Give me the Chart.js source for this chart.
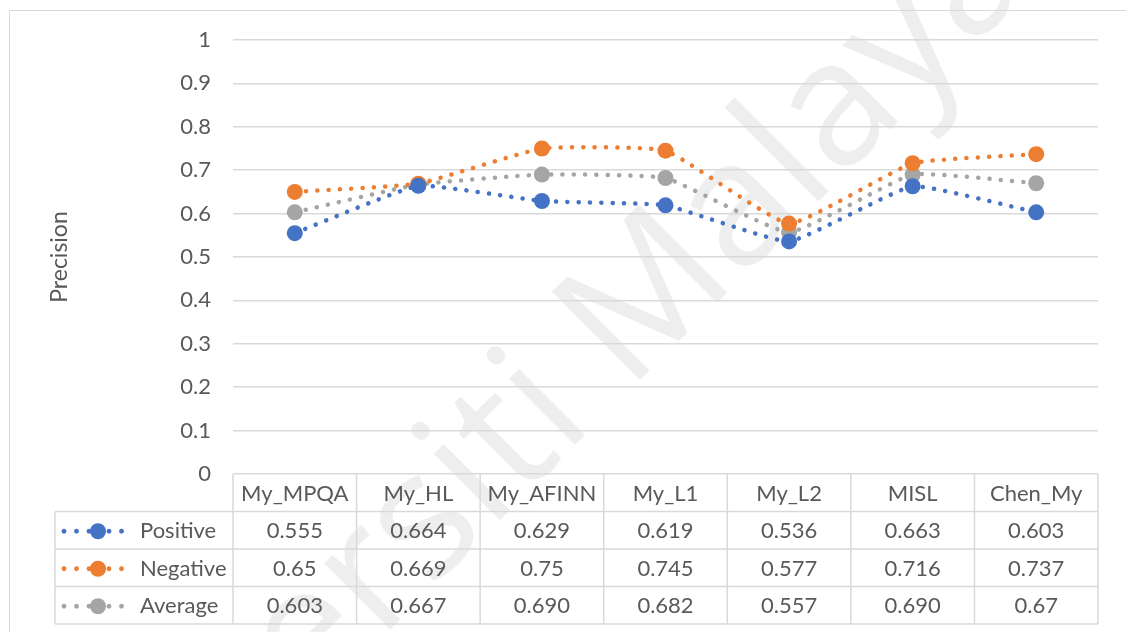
<!DOCTYPE html>
<html lang="en">
<head>
    <meta charset="UTF-8">
    <title>Precision</title>
    <script src="https://cdn.jsdelivr.net/npm/chart.js"></script>
    <style>
        body { margin: 0; padding: 0; background: #fff; }
        #wrap { position: relative; width: 1126px; height: 632px; }
        #frame { position: absolute; left: 9px; top: 10px; width: 1130px; height: 640px; border: 1.5px solid #d9d9d9; box-sizing: border-box; }
    </style>
</head>
<body>
<div id="wrap">
    <div id="frame"></div>
    <canvas id="precisionChart" width="1126" height="632"></canvas>
</div>

<script>
    // categories and series
    const categories = ['My_MPQA', 'My_HL', 'My_AFINN', 'My_L1', 'My_L2', 'MISL', 'Chen_My'];
    const positive = [0.555, 0.664, 0.629, 0.619, 0.536, 0.663, 0.603];
    const negative = [0.65, 0.669, 0.75, 0.745, 0.577, 0.716, 0.737];
    const average = [0.603, 0.667, 0.690, 0.682, 0.557, 0.690, 0.67];
    // how the values are printed in the table
    const positiveText = ['0.555', '0.664', '0.629', '0.619', '0.536', '0.663', '0.603'];
    const negativeText = ['0.65', '0.669', '0.75', '0.745', '0.577', '0.716', '0.737'];
    const averageText = ['0.603', '0.667', '0.690', '0.682', '0.557', '0.690', '0.67'];

    const FONT = 'Lato, "Open Sans", sans-serif';
    const TEXT = '#595959';
    const LINE = '#d9d9d9';

    function series(label, data, color, texts) {
        return {
            label: label,
            data: data,
            texts: texts,
            borderColor: color,
            backgroundColor: color,
            borderWidth: 4.5,
            borderDash: [0.1, 11.2],
            borderCapStyle: 'round',
            tension: 0.12,
            pointStyle: 'circle',
            pointRadius: 8,
            pointBorderWidth: 0,
            fill: false
        };
    }

    // faint diagonal watermark behind everything
    const watermark = {
        id: 'watermark',
        beforeDraw(chart) {
            const c = chart.ctx;
            c.save();
            c.font = '175px "Open Sans", sans-serif';
            const lead = c.measureText('Universiti ').width;
            // place the "M" of Malaya at its spot, rest follows
            c.translate(628, 392);
            c.rotate(-Math.PI / 4);
            c.fillStyle = 'rgba(0,0,0,0.065)';
            c.fillText('Universiti Malaya', -lead, 0);
            c.restore();
        }
    };

    // data table drawn under the plot, columns follow the x scale
    const dataTable = {
        id: 'dataTable',
        afterDraw(chart) {
            const c = chart.ctx;
            const area = chart.chartArea;
            const x = chart.scales.x;
            const colW = (area.right - area.left) / categories.length;
            const rowH = 37.5;
            const top = area.bottom;
            const legendLeft = 55;

            c.save();
            c.strokeStyle = LINE;
            c.lineWidth = 1.5;
            c.beginPath();
            for (let i = 0; i <= categories.length; i++) {
                const xx = area.left + i * colW;
                c.moveTo(xx, top);
                c.lineTo(xx, top + rowH * 4);
            }
            c.moveTo(legendLeft, top + rowH);
            c.lineTo(legendLeft, top + rowH * 4);
            for (let r = 1; r <= 4; r++) {
                c.moveTo(legendLeft, top + rowH * r);
                c.lineTo(area.right, top + rowH * r);
            }
            c.stroke();

            c.fillStyle = TEXT;
            c.font = '22px ' + FONT;
            c.textAlign = 'center';
            c.textBaseline = 'middle';
            categories.forEach((name, i) => {
                c.fillText(name, x.getPixelForValue(i), top + rowH / 2 + 1);
            });

            chart.data.datasets.forEach((ds, r) => {
                const cy = top + rowH * (r + 1) + rowH / 2 + 1;
                c.textAlign = 'center';
                c.fillStyle = TEXT;
                ds.texts.forEach((t, i) => {
                    c.fillText(t, x.getPixelForValue(i), cy);
                });
                // legend key: dotted line with marker
                c.fillStyle = ds.borderColor;
                [64, 76.5, 89, 109, 121.5].forEach(dx => {
                    c.beginPath();
                    c.arc(dx, cy, 2.4, 0, Math.PI * 2);
                    c.fill();
                });
                c.beginPath();
                c.arc(98, cy, 8, 0, Math.PI * 2);
                c.fill();
                c.textAlign = 'left';
                c.fillStyle = TEXT;
                c.fillText(ds.label, 140, cy);
            });
            c.restore();
        }
    };

    const ctx = document.getElementById('precisionChart').getContext('2d');
    const precisionChart = new Chart(ctx, {
        type: 'line',
        data: {
            labels: categories,
            datasets: [
                series('Positive', positive, '#4472c4', positiveText),
                series('Negative', negative, '#ed7d31', negativeText),
                series('Average', average, '#a5a5a5', averageText)
            ]
        },
        options: {
            responsive: false,
            animation: false,
            layout: { padding: { left: 0, top: 40, right: 28, bottom: 158 } },
            plugins: {
                legend: { display: false },
                tooltip: { enabled: false }
            },
            scales: {
                x: {
                    display: false,
                    offset: true
                },
                y: {
                    min: 0,
                    max: 1,
                    afterFit(scale) { scale.width = 233; },
                    border: { display: false },
                    grid: { color: LINE, lineWidth: 1.5, drawTicks: false },
                    ticks: {
                        stepSize: 0.1,
                        padding: 22,
                        color: TEXT,
                        font: { family: FONT, size: 22 },
                        callback: v => String(Math.round(v * 10) / 10)
                    },
                    title: {
                        display: true,
                        text: 'Precision',
                        color: TEXT,
                        padding: { top: 46, bottom: 0 },
                        font: { family: FONT, size: 23 }
                    }
                }
            }
        },
        plugins: [watermark, dataTable]
    });
</script>
</body>
</html>
